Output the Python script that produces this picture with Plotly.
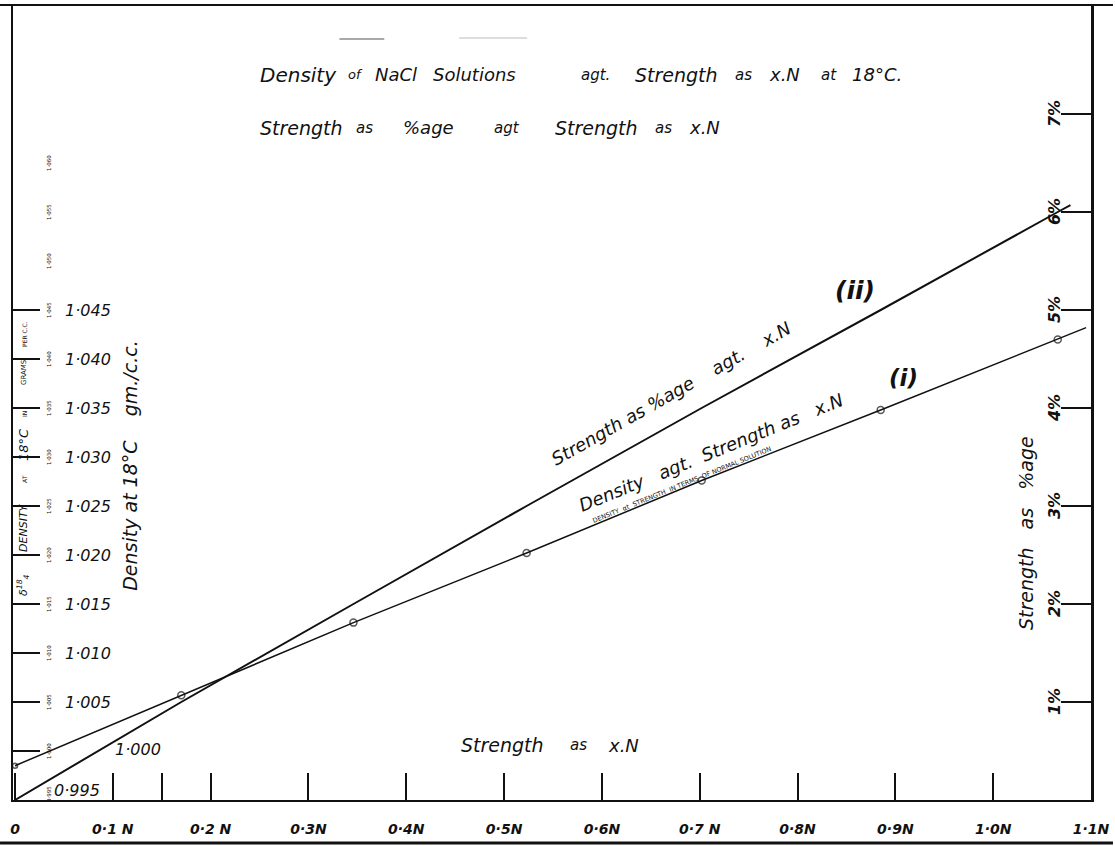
import plotly.graph_objects as go

# ---- data -------------------------------------------------------------
# x-axis: strength of the solution as a fraction of a normal solution
strength_ticks = [0, 0.1, 0.2, 0.3, 0.4, 0.5, 0.6, 0.7, 0.8, 0.9, 1.0, 1.1]
strength_tick_labels = ["0", "0·1 N", "0·2 N", "0·3N", "0·4N", "0·5N",
                        "0·6N", "0·7 N", "0·8N", "0·9N", "1·0N", "1·1N"]
strength_extra_ticks = [0.15]

# curve (i): density at 18 °C against strength as x.N
density_strength = [0.0, 0.170, 0.346, 0.523, 0.702, 0.885, 1.066, 1.095]
density_values = [0.9985, 1.0057, 1.0131, 1.0202, 1.0276, 1.0348, 1.0420, 1.0432]
density_marker_sizes = [5, 7, 7, 7, 7, 7, 7, 0]

# curve (ii): strength as percentage against strength as x.N
percent_strength = [0.0, 0.170, 0.346, 0.523, 0.702, 0.885, 1.066, 1.079]
percent_values = [0.0, 1.0, 2.0, 3.0, 4.0, 5.0, 6.0, 6.07]

# left scale (density, gm./c.c.)
density_ticks = [0.995, 1.000, 1.005, 1.010, 1.015, 1.020, 1.025, 1.030,
                 1.035, 1.040, 1.045]
density_tick_labels = ["0·995", "1·000", "1·005", "1·010", "1·015", "1·020",
                       "1·025", "1·030", "1·035", "1·040", "1·045"]
density_small_ticks = [0.995, 1.000, 1.005, 1.010, 1.015, 1.020, 1.025, 1.030,
                       1.035, 1.040, 1.045, 1.050, 1.055, 1.060]
density_small_labels = ["0·995", "1·000", "1·005", "1·010", "1·015", "1·020",
                        "1·025", "1·030", "1·035", "1·040", "1·045", "1·050",
                        "1·055", "1·060"]

# right scale (strength as %age)
percent_ticks = [1, 2, 3, 4, 5, 6, 7]
percent_tick_labels = ["1%", "2%", "3%", "4%", "5%", "6%", "7%"]

# ---- page geometry ------------------------------------------------------
W, H = 1115, 846
L, R, T, B = 13, 22, 5, 46
PW, PH = W - L - R, H - T - B
X_PER_N = 980.0          # pixels per unit of normality
Y_PER_DENS = 9800.0      # pixels per gm./c.c.
Y_PER_PCT = 98.0         # pixels per percent

FONT = "DejaVu Sans"
INK = "#111111"


def px(x):
    return (x - L) / PW


def py(y):
    return (H - B - y) / PH


def f(size, bold=False, italic=True):
    return dict(family=FONT, size=size, color=INK,
                style="italic" if italic else "normal",
                weight="bold" if bold else "normal")


fig = go.Figure()

fig.add_trace(go.Scatter(
    x=percent_strength, y=percent_values, yaxis="y2", mode="lines",
    line=dict(color=INK, width=2), hoverinfo="skip", showlegend=False))

fig.add_trace(go.Scatter(
    x=density_strength, y=density_values, mode="lines+markers",
    line=dict(color=INK, width=1.5),
    marker=dict(symbol="circle-open", size=density_marker_sizes,
                color=INK, line=dict(width=1.5, color=INK)),
    hoverinfo="skip", showlegend=False))

ann = []


def text(t, x, y, size, angle=0, bold=False, italic=True, xanchor="center",
         xref="paper", yref="paper", yshift=0):
    ann.append(dict(text=t, x=x, y=y, xref=xref, yref=yref, showarrow=False,
                    textangle=angle, font=f(size, bold, italic),
                    xanchor=xanchor, yanchor="middle", yshift=yshift))


# titles
for t, x0, sz in [("Density", 258, 20), ("of", 347, 13), ("NaCl", 374, 18),
                  ("Solutions", 432, 18), ("agt.", 580, 15),
                  ("Strength", 634, 19), ("as", 734, 15), ("x.N", 768, 18),
                  ("at", 820, 15), ("18°C.", 852, 18)]:
    text(t, px(x0), py(75), sz, xanchor="left")
for t, x0, sz in [("Strength", 258, 19), ("as", 355, 15), ("%age", 402, 18),
                  ("agt", 493, 15), ("Strength", 554, 19), ("as", 654, 15),
                  ("x.N", 688, 18)]:
    text(t, px(x0), py(128), sz, xanchor="left")

# axis titles
for t, x0, sz in [("Strength", 460, 19), ("as", 569, 15), ("x.N", 607, 18)]:
    text(t, px(x0), py(745), sz, xanchor="left")
text("Density at 18°C    gm./c.c.", px(130), py(465), 19, angle=-90)
text("Strength   as   %age", px(1028), py(533), 19, angle=-90)

# curve labels
text("Strength as %age    agt.    x.N", px(672), py(393), 18, angle=-29.5)
text("(ii)", px(857), py(290), 25, bold=True)
text("Density   agt.  Strength as   x.N", px(712), py(452), 18, angle=-22.2)
text("(i)", px(905), py(378), 23, bold=True)
text("DENSITY  αt  STRENGTH  IN TERMS  OF NORMAL SOLUTION", px(683), py(485),
     6.5, angle=-22.2, italic=False)

# left scale labels
for v, lab in zip(density_ticks, density_tick_labels):
    if v == 0.995:
        text(lab, px(52), v, 16, xanchor="left", yref="y", yshift=10)
    elif v == 1.000:
        text(lab, px(113), v, 16, xanchor="left", yref="y", yshift=2)
    else:
        text(lab, px(63), v, 16, xanchor="left", yref="y")
for v, lab in zip(density_small_ticks, density_small_labels):
    text(lab, px(49), v, 5.5, angle=-90, italic=False, yref="y",
         yshift=6 if v == 0.995 else 0)

# vertical legend strip beside the density scale
text("δ<sup>18</sup><sub>4</sub>", px(23), py(585), 11, angle=-90)
text("DENSITY", px(23), py(527), 11, angle=-90)
text("AT", px(24), py(479), 6, angle=-90, italic=False)
text("18°C", px(23), py(444), 13, angle=-90)
text("IN", px(24), py(414), 6, angle=-90, italic=False)
text("GRAMS", px(24), py(372), 7, angle=-90, italic=False)
text("PER C.C.", px(24), py(334), 6, angle=-90, italic=False)

# right scale labels
for v, lab in zip(percent_ticks, percent_tick_labels):
    text(lab, px(1056), v, 16, angle=-90, bold=True, yref="y2")

shapes = [
    dict(type="line", xref="paper", yref="paper", x0=px(0), x1=px(W),
         y0=py(5), y1=py(5), line=dict(color=INK, width=2)),
    dict(type="line", xref="paper", yref="paper", x0=px(0), x1=px(W),
         y0=py(843), y1=py(843), line=dict(color=INK, width=3)),
    dict(type="line", xref="paper", yref="paper", x0=px(340), x1=px(385),
         y0=py(39), y1=py(39), line=dict(color="#555555", width=1)),
    dict(type="line", xref="paper", yref="paper", x0=px(460), x1=px(528),
         y0=py(38), y1=py(38), line=dict(color="#bbbbbb", width=1)),
]

x_lo = -(15 - L) / X_PER_N
fig.update_layout(
    width=W, height=H,
    margin=dict(l=L, r=R, t=T, b=B, pad=0),
    paper_bgcolor="white", plot_bgcolor="white",
    annotations=ann, shapes=shapes,
    xaxis=dict(range=[x_lo, x_lo + PW / X_PER_N], showgrid=False,
               zeroline=False, showline=True, linecolor=INK, linewidth=2,
               ticks="inside", ticklen=27, tickwidth=1.5, tickcolor=INK,
               tickvals=strength_ticks, ticktext=strength_tick_labels,
               tickfont=f(14, bold=True), ticklabelstandoff=15,
               minor=dict(tickvals=strength_extra_ticks, ticks="inside",
                          ticklen=27, tickwidth=1.5, tickcolor=INK,
                          showgrid=False),
               fixedrange=True),
    yaxis=dict(range=[0.995, 0.995 + PH / Y_PER_DENS], showgrid=False,
               zeroline=False, showline=True, linecolor=INK, linewidth=2,
               ticks="inside", ticklen=27, tickwidth=1.5, tickcolor=INK,
               tickvals=density_ticks, showticklabels=False,
               fixedrange=True),
    yaxis2=dict(range=[0, PH / Y_PER_PCT], overlaying="y", side="right",
                showgrid=False, zeroline=False, showline=True,
                linecolor=INK, linewidth=3, ticks="inside", ticklen=30,
                tickwidth=2, tickcolor=INK, tickvals=percent_ticks,
                showticklabels=False, fixedrange=True),
)

fig.write_html("out.html")
